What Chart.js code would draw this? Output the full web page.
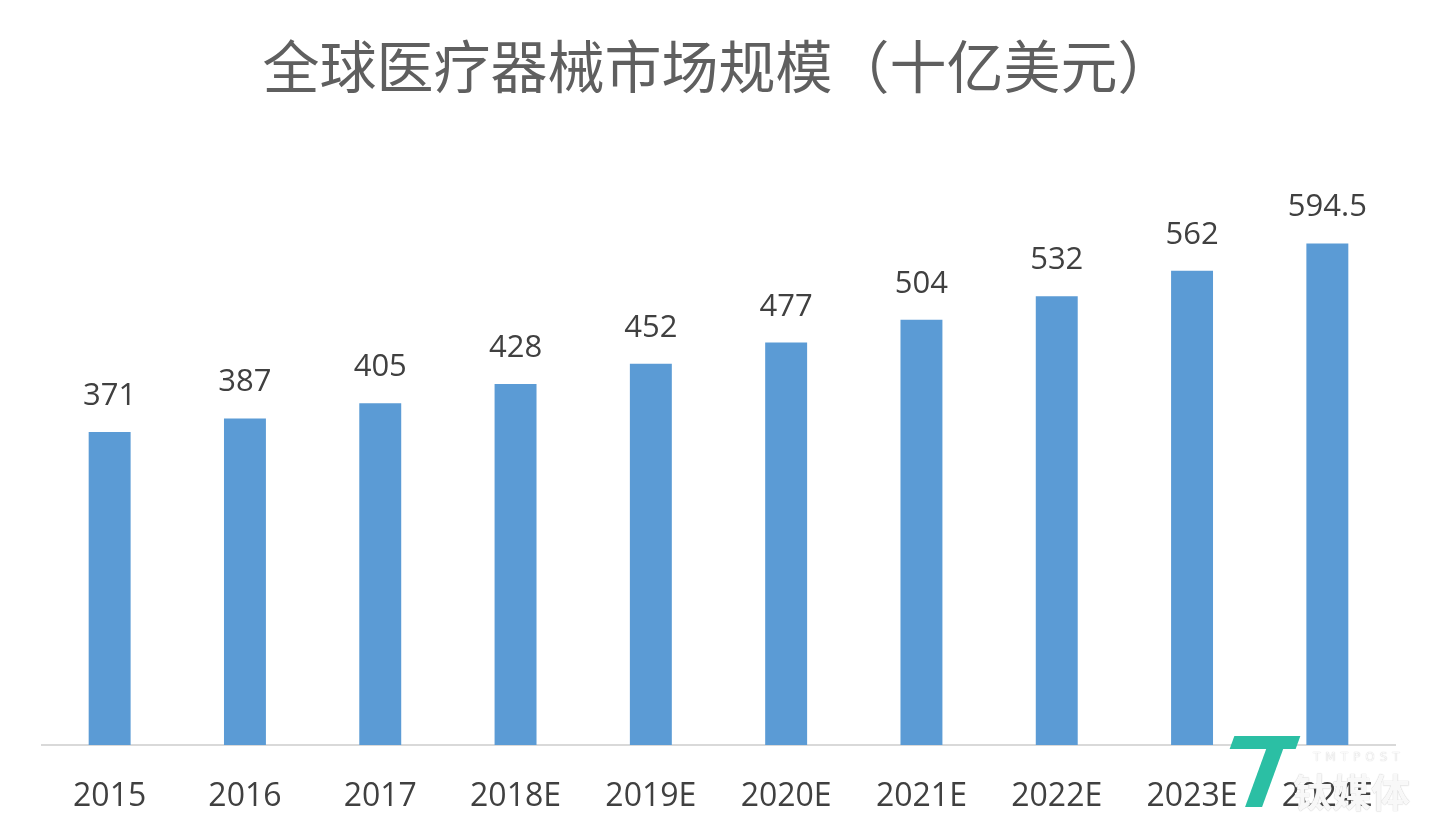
<!DOCTYPE html>
<html>
<head>
<meta charset="utf-8">
<script src="https://cdn.jsdelivr.net/npm/chart.js@4/dist/chart.umd.min.js"></script>
<style>
  html, body { margin: 0; padding: 0; background: #fff; }
  #wrap { position: relative; width: 1439px; height: 839px; }
  #mark { position: absolute; left: 1222px; top: 733px; width: 210px; height: 90px; pointer-events: none; }
  #mark .t1 { position: absolute; left: 10px; top: 3px; width: 66px; height: 13px; background: #2bbfa4; transform: skewX(-20deg); }
  #mark .t2 { position: absolute; left: 34px; top: 14px; width: 17px; height: 60px; background: #2bbfa4; transform: skewX(-20deg); }
  #mark .en { position: absolute; left: 91px; top: 17px; font: 12px "DejaVu Sans", sans-serif; letter-spacing: 5px; color: rgba(255,255,255,0.9); text-shadow: 0 0 1px #bbb; }
  #mark .cn { position: absolute; left: 71px; top: 29px; font: bold 39px "Noto Sans CJK SC", sans-serif; color: rgba(255,255,255,0.92); text-shadow: 0 0 1px #aaa; }
</style>
</head>
<body>
<div id="wrap">
  <canvas id="chart" width="1439" height="839"></canvas>
  <div id="mark"><div class="t1"></div><div class="t2"></div><div class="en">TMTPOST</div><div class="cn">钛媒体</div></div>
</div>
<script>
const categories = ["2015", "2016", "2017", "2018E", "2019E", "2020E", "2021E", "2022E", "2023E", "2024E"];
const marketSize = [371, 387, 405, 428, 452, 477, 504, 532, 562, 594.5];
const chartTitle = "全球医疗器械市场规模（十亿美元）";

// draw the value above each bar
const valueLabels = {
  id: "valueLabels",
  afterDatasetsDraw(chart) {
    const ctx = chart.ctx;
    const meta = chart.getDatasetMeta(0);
    ctx.save();
    ctx.font = '31px "Open Sans", sans-serif';
    ctx.fillStyle = "#404040";
    ctx.textAlign = "center";
    ctx.textBaseline = "alphabetic";
    meta.data.forEach((bar, i) => {
      ctx.fillText(String(marketSize[i]), bar.x, bar.y - 27);
    });
    ctx.restore();
  },
};

new Chart(document.getElementById("chart"), {
  type: "bar",
  data: {
    labels: categories,
    datasets: [
      {
        data: marketSize,
        backgroundColor: "#5B9BD5",
        categoryPercentage: 1,
        barPercentage: 0.31,
      },
    ],
  },
  options: {
    responsive: false,
    animation: false,
    layout: { padding: { left: 42, right: 44, top: 0, bottom: 25 } },
    plugins: {
      legend: { display: false },
      tooltip: { enabled: false },
      title: {
        display: true,
        text: chartTitle,
        color: "#5f5f5f",
        font: { family: '"Noto Sans CJK SC", sans-serif', size: 57, weight: "normal", lineHeight: 1.2 },
        padding: { top: 32, bottom: 54 },
      },
    },
    scales: {
      x: {
        grid: { display: false, drawTicks: false },
        border: { color: "#d9d9d9", width: 2 },
        afterFit(scale) {
          scale.height = 69;
        },
        ticks: {
          color: "#404040",
          padding: 33,
          font: { family: '"Open Sans", sans-serif', size: 32, lineHeight: 1.2 },
        },
      },
      y: {
        display: false,
        min: 0,
        max: 700,
      },
    },
  },
  plugins: [valueLabels],
});
</script>
</body>
</html>
